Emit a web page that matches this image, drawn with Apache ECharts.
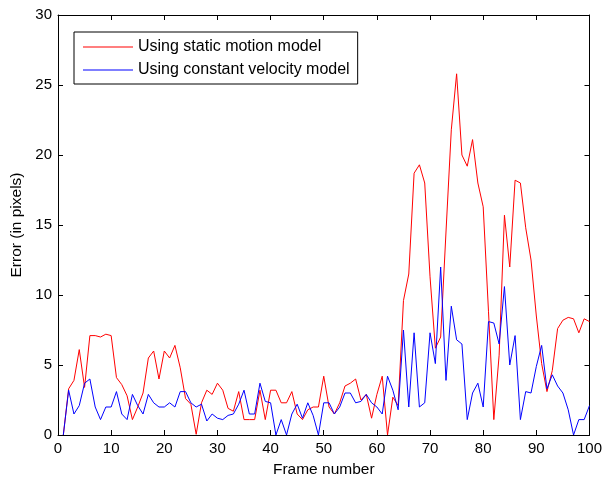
<!DOCTYPE html>
<html>
<head>
<meta charset="utf-8">
<script src="https://cdn.jsdelivr.net/npm/echarts@6/dist/echarts.min.js"></script>
<style>html,body{margin:0;padding:0;background:#fff}#c{width:605px;height:485px}</style>
</head>
<body>
<div id="c"></div>
<script>
const frames = Array.from({length: 100}, (_, i) => i + 1);
const staticModel = [
  0, 3.3, 3.9, 6.1, 3.4, 7.1, 7.1, 7.0, 7.2, 7.1,
  4.1, 3.6, 2.8, 1.1, 2.0, 3.0, 5.5, 6.0, 4.0, 6.0,
  5.5, 6.4, 4.8, 2.6, 2.2, 0.05, 2.3, 3.2, 2.9, 3.7,
  3.2, 1.9, 1.7, 3.1, 1.1, 1.1, 1.1, 3.2, 1.1, 3.2,
  3.2, 2.3, 2.3, 3.1, 1.5, 1.1, 1.8, 2.0, 2.0, 4.2,
  2.0, 1.5, 2.3, 3.5, 3.7, 4.0, 2.5, 2.9, 1.2, 2.9,
  4.2, 0, 2.7, 2.1, 9.6, 11.5, 18.7, 19.3, 18.0, 11.3,
  6.2, 7.0, 14.5, 21.8, 25.8, 20.0, 19.2, 21.1, 18.0, 16.3,
  8.8, 1.1, 5.7, 15.7, 12.0, 18.2, 18.0, 14.8, 12.5, 8.5,
  5.1, 3.1, 4.6, 7.6, 8.2, 8.4, 8.3, 7.3, 8.3, 8.1
];
const velocityModel = [
  0, 3.2, 1.5, 2.1, 3.7, 4.0, 2.0, 1.1, 2.0, 2.0,
  3.1, 1.5, 1.1, 2.9, 2.1, 1.5, 2.9, 2.3, 2.0, 2.0,
  2.3, 2.0, 3.1, 3.1, 2.3, 2.0, 2.2, 1.0, 1.5, 1.2,
  1.1, 1.4, 1.5, 2.2, 3.2, 1.5, 1.5, 3.7, 2.4, 2.3,
  0, 1.1, 0, 1.5, 2.2, 1.2, 2.3, 1.4, 0, 2.3,
  2.3, 1.5, 2.0, 3.0, 3.0, 2.3, 2.4, 2.9, 2.3, 2.0,
  1.5, 4.2, 3.2, 1.8, 7.5, 2.0, 7.3, 2.0, 2.3, 7.3,
  5.1, 12.0, 3.9, 9.2, 6.8, 6.5, 1.1, 3.0, 3.7, 2.0,
  8.1, 8.0, 6.5, 10.6, 5.0, 7.1, 1.1, 3.1, 3.0, 4.9,
  6.4, 3.3, 4.3, 3.5, 3.0, 1.8, 0, 1.1, 1.1, 2.1
];
const seriesNames = ['Using static motion model', 'Using constant velocity model'];
const xTicks = {min: 0, max: 100, interval: 10};
const yTicks = {min: 0, max: 30, interval: 5};

const FONT = "'Liberation Sans', Arial, sans-serif";
const axisCommon = {
  axisLine: {show: true, onZero: false, lineStyle: {color: '#000', width: 1}},
  axisTick: {show: true, inside: true, length: 5, lineStyle: {color: '#000'}},
  splitLine: {show: false}
};
const chart = echarts.init(document.getElementById('c'), null, {renderer: 'canvas'});
chart.setOption({
  animation: false,
  backgroundColor: '#fff',
  grid: {left: 58, right: 13, top: 15, bottom: 50, containLabel: false},
  legend: {
    orient: 'vertical',
    left: 74, top: 32,
    padding: [7, 8, 6, 9],
    itemGap: 7,
    itemWidth: 50, itemHeight: 1,
    icon: 'rect',
    borderColor: '#000', borderWidth: 1,
    backgroundColor: '#fff',
    textStyle: {fontFamily: FONT, fontSize: 16, color: '#000', lineHeight: 16, padding: [0, 0, 0, 0]},
    data: seriesNames
  },
  xAxis: [
    Object.assign({
      type: 'value', position: 'bottom', min: xTicks.min, max: xTicks.max, interval: xTicks.interval,
      name: 'Frame number', nameLocation: 'middle', nameGap: 27,
      nameTextStyle: {fontFamily: FONT, fontSize: 15.5, color: '#000'},
      axisLabel: {fontFamily: FONT, fontSize: 15, color: '#000', margin: 6}
    }, axisCommon),
    Object.assign({
      type: 'value', position: 'top', min: xTicks.min, max: xTicks.max, interval: xTicks.interval,
      axisLabel: {show: false}
    }, axisCommon)
  ],
  yAxis: [
    Object.assign({
      type: 'value', position: 'left', min: yTicks.min, max: yTicks.max, interval: yTicks.interval,
      name: 'Error (in pixels)', nameLocation: 'middle', nameGap: 33,
      nameTextStyle: {fontFamily: FONT, fontSize: 15.5, color: '#000'},
      axisLabel: {fontFamily: FONT, fontSize: 15, color: '#000', margin: 6}
    }, axisCommon),
    Object.assign({
      type: 'value', position: 'right', min: yTicks.min, max: yTicks.max, interval: yTicks.interval,
      axisLabel: {show: false}
    }, axisCommon)
  ],
  series: [
    {
      name: seriesNames[0], type: 'line', xAxisIndex: 0, yAxisIndex: 0,
      showSymbol: false, symbol: 'none', color: '#ff0000',
      lineStyle: {color: '#ff0000', width: 1},
      data: frames.map((f, i) => [f, staticModel[i]])
    },
    {
      name: seriesNames[1], type: 'line', xAxisIndex: 0, yAxisIndex: 0,
      showSymbol: false, symbol: 'none', color: '#0000ff',
      lineStyle: {color: '#0000ff', width: 1},
      data: frames.map((f, i) => [f, velocityModel[i]])
    }
  ]
});
</script>
</body>
</html>
